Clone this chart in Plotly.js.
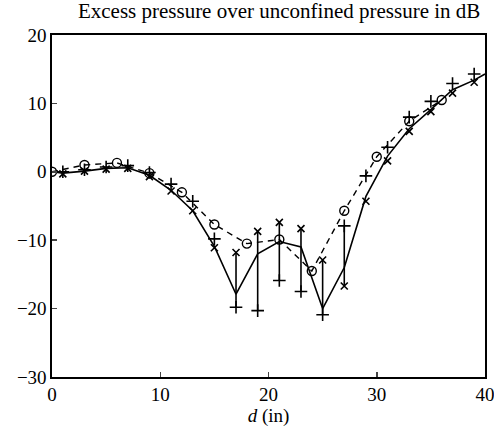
<!DOCTYPE html>
<html>
<head>
<meta charset="utf-8">
<script src="https://cdn.plot.ly/plotly-3.0.1.min.js"></script>
<style>html,body{margin:0;padding:0;background:#fff}#chart{width:494px;height:434px}</style>
</head>
<body>
<div id="chart"></div>
<script>
// Solid curve
const solidD = [0, 1, 3, 5, 7, 9, 11, 13, 15, 17, 19, 21, 23, 25, 27, 29, 31, 33, 35, 37, 39, 40];
const solidDb = [0, -0.2, 0.1, 0.5, 0.6, -0.5, -2.7, -5.7, -10.9, -17.9, -12.0, -10.2, -11.0, -20.0, -14.0, -3.6, 2.3, 6.3, 9.1, 12.0, 13.4, 14.3];
// Dashed curve with circles
const dashD = [0, 3, 6, 9, 12, 15, 18, 21, 24, 27, 30, 33, 36];
const dashDb = [0, 1.0, 1.3, -0.2, -3.0, -7.7, -10.5, -9.9, -14.5, -5.7, 2.2, 7.4, 10.5];
// Measurements: "+" and "x" sets
const measD = [1, 3, 5, 7, 9, 11, 13, 15, 17, 19, 21, 23, 25, 27, 29, 31, 33, 35, 37, 39];
const plusDb = [0.0, 0.3, 0.7, 0.9, -0.1, -1.8, -4.3, -9.8, -19.8, -20.3, -15.9, -17.5, -20.9, -7.9, -0.6, 3.6, 8.0, 10.3, 12.9, 14.3];
const crossDb = [-0.3, 0.1, 0.4, 0.5, -0.7, -2.8, -5.7, -11.1, -11.8, -8.7, -7.4, -8.3, -12.9, -16.7, -4.3, 1.6, 5.9, 8.8, 11.5, 13.1];
// Positions where the spread between the two sets is drawn as a bar
const barD = [17, 19, 21, 23, 25, 27];

const barX = [], barY = [];
barD.forEach(d => {
  const i = measD.indexOf(d);
  barX.push(d, d, null);
  barY.push(plusDb[i], crossDb[i], null);
});

const traces = [
  {x: barX, y: barY, mode: 'lines', line: {color: '#000', width: 1.6}, hoverinfo: 'skip'},
  {x: solidD, y: solidDb, mode: 'lines', line: {color: '#000', width: 1.6}},
  {x: dashD, y: dashDb, mode: 'lines+markers', line: {color: '#000', width: 1.4, dash: '6px,5px'},
   marker: {symbol: 'circle-open', size: 9, color: '#000', line: {width: 1.4, color: '#000'}}},
  {x: measD, y: plusDb, mode: 'markers',
   marker: {symbol: 'cross-thin-open', size: 9, color: '#000', line: {width: 1.6, color: '#000'}}},
  {x: measD, y: crossDb, mode: 'markers',
   marker: {symbol: 'x-thin-open', size: 7, color: '#000', line: {width: 1.6, color: '#000'}}}
];

const layout = {
  width: 494, height: 434,
  margin: {l: 52, r: 9, t: 35, b: 57},
  paper_bgcolor: '#fff', plot_bgcolor: '#fff',
  showlegend: false,
  font: {family: '"Liberation Serif", "DejaVu Serif", serif', color: '#000', size: 19},
  title: {text: 'Excess pressure over unconfined pressure in dB', x: 0.565, xanchor: 'center', y: 0.992, yanchor: 'top',
          font: {size: 21, family: '"Liberation Serif", serif', color: '#000'}},
  xaxis: {range: [0, 40], dtick: 10, tick0: 0, ticks: 'inside', ticklen: 5, tickwidth: 1.5,
          showline: true, linewidth: 1.6, linecolor: '#000', mirror: true, showgrid: false, zeroline: false,
          ticklabeloverflow: 'allow',
          tickfont: {size: 19}, title: {text: '<i>d</i> (in)', standoff: 1, font: {size: 19}}},
  yaxis: {range: [-30, 20], dtick: 10, tick0: 0, ticks: 'inside', ticklen: 5, tickwidth: 1.5,
          showline: true, linewidth: 1.6, linecolor: '#000', mirror: true, showgrid: false, zeroline: false,
          ticklabeloverflow: 'allow',
          tickfont: {size: 19}}
};

Plotly.newPlot('chart', traces, layout, {displayModeBar: false, staticPlot: true});
</script>
</body>
</html>
